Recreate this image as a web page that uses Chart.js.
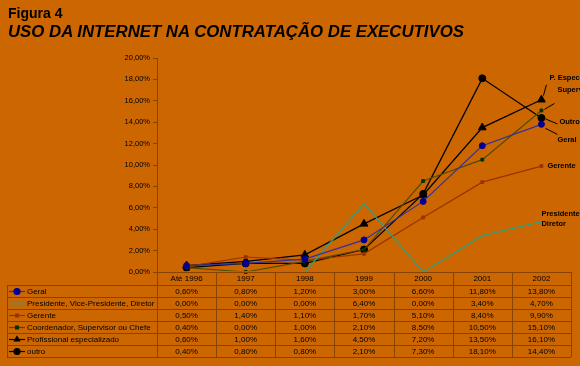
<!DOCTYPE html>
<html>
<head>
<meta charset="utf-8">
<script src="https://cdn.jsdelivr.net/npm/chart.js@4/dist/chart.umd.min.js"></script>
<style>
  html, body { margin: 0; padding: 0; background: #cc6600; }
  #wrap { position: relative; width: 580px; height: 366px; overflow: hidden; }
  #fig { position: absolute; left: 8px; top: 5px; font: bold 14px "Liberation Sans", Arial, sans-serif; color: #000; }
  #title { position: absolute; left: 8px; top: 22px; font: italic bold 16.8px "Liberation Sans", Arial, sans-serif; color: #000; white-space: nowrap; }
  canvas { position: absolute; left: 0; top: 0; }
</style>
</head>
<body>
<div id="wrap">
  <canvas id="chart" width="580" height="366"></canvas>
  <div id="fig">Figura 4</div>
  <div id="title">USO DA INTERNET NA CONTRATAÇÃO DE EXECUTIVOS</div>
</div>
<script>
// Data
const categories = ['Até 1996', '1997', '1998', '1999', '2000', '2001', '2002'];
const seriesNames = [
  'Geral',
  'Presidente, Vice-Presidente, Diretor',
  'Gerente',
  'Coordenador, Supervisor ou Chefe',
  'Profissional especializado',
  'outro'
];
const geral = [0.6, 0.8, 1.2, 3.0, 6.6, 11.8, 13.8];
const presidente = [0.0, 0.0, 0.0, 6.4, 0.0, 3.4, 4.7];
const gerente = [0.5, 1.4, 1.1, 1.7, 5.1, 8.4, 9.9];
const coordenador = [0.4, 0.0, 1.0, 2.1, 8.5, 10.5, 15.1];
const profissional = [0.6, 1.0, 1.6, 4.5, 7.2, 13.5, 16.1];
const outro = [0.4, 0.8, 0.8, 2.1, 7.3, 18.1, 14.4];
const yTicks = [0, 2, 4, 6, 8, 10, 12, 14, 16, 18, 20];
// end labels at the right of the plot
const endLabels = [['Geral'], ['Presidente,', 'Diretor'], ['Gerente'], ['Supervisor'], ['P. Especializado'], ['Outro']];

const FONT = '"Liberation Sans", Arial, sans-serif';
const lineColor = '#8a4200';

const styles = [
  { border: '#333399', point: '#000099', style: 'circle', radius: 3, width: 1.2, key: true },
  { border: '#2f9f7f', point: '#2f9f7f', style: 'line', radius: 3, width: 1.3, key: false },
  { border: '#993300', point: '#993300', style: 'rect', radius: 2, width: 1.2, key: true },
  { border: '#4d4d00', point: '#003300', style: 'rect', radius: 2, width: 1.2, key: true },
  { border: '#000000', point: '#000000', style: 'triangle', radius: 4.5, width: 1.3, key: true },
  { border: '#000000', point: '#000000', style: 'circle', radius: 3.5, width: 1.3, key: true }
];
const seriesData = [geral, presidente, gerente, coordenador, profissional, outro];

function fmt(v) {
  return v.toFixed(2).replace('.', ',') + '%';
}

// label offsets relative to last point (dx, dy, leader line from/to)
const labelPos = [
  { dx: 16, dy: 16, lead: [[4, 4], [16, 10]] },
  { dx: 0, dy: -8, lead: null },
  { dx: 6, dy: 0, lead: null },
  { dx: 16, dy: -20, lead: [[3, -1], [13, -7]] },
  { dx: 8, dy: -22, lead: [[2, -4], [5, -15]] },
  { dx: 18, dy: 4, lead: [[4, 1], [16, 6]] }
];

const tablePlugin = {
  id: 'dataTable',
  afterDraw(chart) {
    const ctx = chart.ctx;
    const area = chart.chartArea;
    const x = chart.scales.x;
    const y = chart.scales.y;
    const left = 7;
    const headTop = area.bottom;
    const rowTop = area.bottom + 13;
    const rowH = 12;
    const bottom = rowTop + rowH * seriesData.length;
    const colW = (area.right - area.left) / categories.length;

    ctx.save();
    // grid of the data table
    ctx.strokeStyle = lineColor;
    ctx.lineWidth = 1;
    ctx.beginPath();
    ctx.moveTo(area.left, headTop + 0.5);
    ctx.lineTo(area.right, headTop + 0.5);
    for (let r = 0; r <= seriesData.length; r++) {
      const yy = Math.round(rowTop + r * rowH) + 0.5;
      ctx.moveTo(left, yy);
      ctx.lineTo(area.right, yy);
    }
    ctx.moveTo(left + 0.5, rowTop);
    ctx.lineTo(left + 0.5, bottom);
    for (let c = 0; c <= categories.length; c++) {
      const xx = Math.round(area.left + c * colW) + 0.5;
      ctx.moveTo(xx, headTop);
      ctx.lineTo(xx, bottom);
    }
    ctx.stroke();

    ctx.fillStyle = '#000';
    ctx.font = '8px ' + FONT;
    ctx.textAlign = 'center';
    ctx.textBaseline = 'middle';
    categories.forEach((c, i) => {
      ctx.fillText(c, x.getPixelForValue(i), headTop + 6.5);
    });

    seriesData.forEach((data, r) => {
      const cy = rowTop + r * rowH + 6.5;
      const st = styles[r];
      // legend key
      ctx.strokeStyle = st.border;
      ctx.lineWidth = st.key ? 1.2 : 1.6;
      ctx.beginPath();
      ctx.moveTo(9, cy);
      ctx.lineTo(25, cy);
      ctx.stroke();
      if (st.key) {
        ctx.fillStyle = st.point;
        ctx.strokeStyle = st.point;
        Chart.helpers.drawPoint(ctx, {
          pointStyle: st.style,
          radius: Math.min(st.radius, 3),
          borderWidth: 1,
          rotation: 0
        }, 17, cy);
      }
      ctx.fillStyle = '#000';
      ctx.textAlign = 'left';
      ctx.fillText(seriesNames[r], 27, cy);
      ctx.textAlign = 'center';
      data.forEach((v, i) => {
        ctx.fillText(fmt(v), x.getPixelForValue(i), cy);
      });
    });

    // end labels
    ctx.font = 'bold 7.5px ' + FONT;
    ctx.textAlign = 'left';
    ctx.strokeStyle = '#000';
    ctx.lineWidth = 1;
    seriesData.forEach((data, r) => {
      const last = data.length - 1;
      const px = x.getPixelForValue(last);
      const py = y.getPixelForValue(data[last]);
      const p = labelPos[r];
      endLabels[r].forEach((t, k) => {
        ctx.fillText(t, px + p.dx, py + p.dy + k * 10);
      });
      if (p.lead) {
        ctx.beginPath();
        ctx.moveTo(px + p.lead[0][0], py + p.lead[0][1]);
        ctx.lineTo(px + p.lead[1][0], py + p.lead[1][1]);
        ctx.stroke();
      }
    });
    ctx.restore();
  }
};

const datasets = seriesData.map((data, i) => ({
  label: seriesNames[i],
  data: data,
  borderColor: styles[i].border,
  backgroundColor: styles[i].point,
  pointBackgroundColor: styles[i].point,
  pointBorderColor: styles[i].point,
  pointStyle: styles[i].style,
  pointRadius: styles[i].radius,
  pointBorderWidth: 1,
  borderWidth: styles[i].width,
  tension: 0,
  clip: false
}));

new Chart(document.getElementById('chart'), {
  type: 'line',
  data: { labels: categories, datasets: datasets },
  options: {
    responsive: false,
    animation: false,
    layout: { padding: { left: 0, right: 9, top: 58, bottom: 94 } },
    plugins: {
      legend: { display: false },
      tooltip: { enabled: false }
    },
    scales: {
      x: { display: false, offset: true },
      y: {
        min: 0,
        max: 20,
        afterFit: s => { s.width = 157; },
        afterBuildTicks: s => { s.ticks = yTicks.map(v => ({ value: v })); },
        border: { display: true, color: lineColor, width: 1 },
        grid: { drawOnChartArea: false, drawTicks: true, tickLength: 4, color: lineColor },
        ticks: {
          color: '#000',
          font: { family: FONT, size: 7.5 },
          padding: 3,
          callback: v => fmt(v)
        }
      }
    }
  },
  plugins: [tablePlugin]
});
</script>
</body>
</html>
